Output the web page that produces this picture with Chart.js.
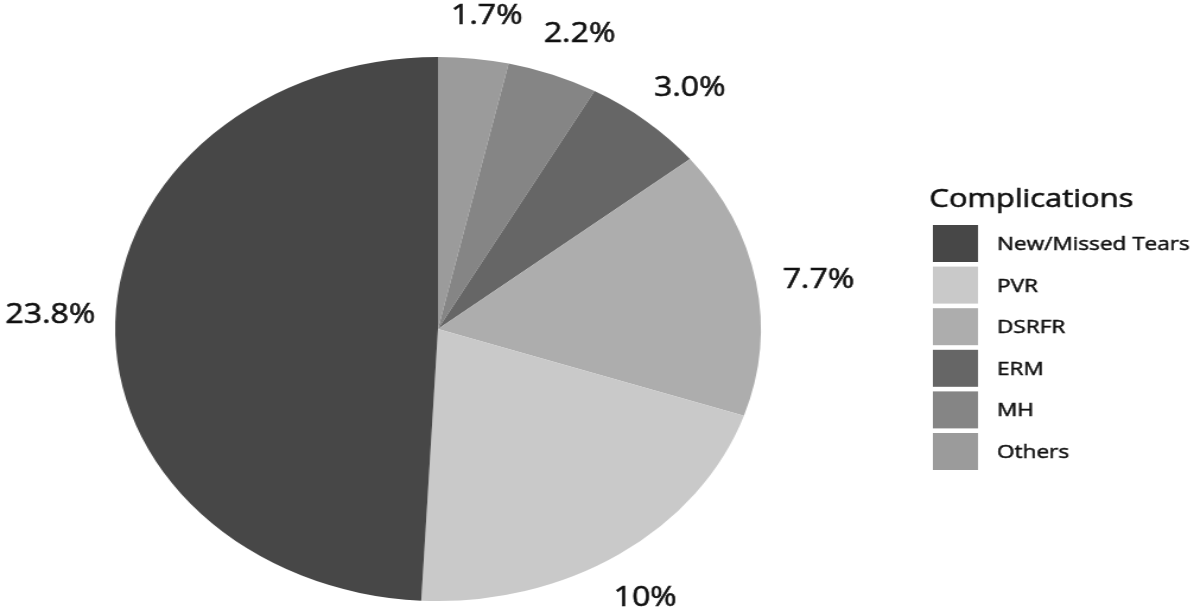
<!DOCTYPE html>
<html lang="en">
<head>
  <meta charset="UTF-8" />
  <title>Complications</title>
  <script src="https://cdn.jsdelivr.net/npm/chart.js"></script>
  <style>
    html, body {
      margin: 0;
      padding: 0;
      background: #fff;
      overflow: hidden;
    }
    /* the reference is stretched sideways, so the chart is drawn narrow and widened */
    #wrap {
      width: 1011px;
      height: 608px;
      transform: scaleX(1.1869);
      transform-origin: 0 0;
    }
  </style>
</head>
<body>
  <div id="wrap"><canvas id="chart"></canvas></div>

  <script>
    // legend order (counter-clockwise from the top in the picture)
    const categories = ['New/Missed Tears', 'PVR', 'DSRFR', 'ERM', 'MH', 'Others'];
    const values = [23.8, 10, 7.7, 3.0, 2.2, 1.7];
    const valueLabels = ['23.8%', '10%', '7.7%', '3.0%', '2.2%', '1.7%'];
    const colors = ['#474747', '#c9c9c9', '#adadad', '#666666', '#858585', '#9b9b9b'];
    const legendTitle = 'Complications';

    const FONT = "'Open Sans', 'Noto Sans', sans-serif";

    // Chart.js goes clockwise, the picture goes the other way, so flip
    const order = categories.map((_, i) => i).reverse();

    // a bit heavier than plain fill, the source font is chunkier
    function heavyText(ctx, txt, x, y) {
      ctx.fillText(txt, x, y);
      ctx.strokeText(txt, x, y);
    }

    const sliceLabels = {
      id: 'sliceLabels',
      afterDatasetsDraw(chart) {
        const ctx = chart.ctx;
        const meta = chart.getDatasetMeta(0);
        ctx.save();
        ctx.font = '27px ' + FONT;
        ctx.fillStyle = '#111';
        ctx.strokeStyle = '#111';
        ctx.lineWidth = 0.6;
        ctx.textAlign = 'center';
        ctx.textBaseline = 'middle';
        meta.data.forEach((arc, i) => {
          const mid = (arc.startAngle + arc.endAngle) / 2 + 0.02;
          const txt = valueLabels[order[i]];
          const r = arc.outerRadius * 1.16 + Math.abs(Math.cos(mid)) * ctx.measureText(txt).width * 0.15;
          heavyText(ctx, txt, arc.x + Math.cos(mid) * r, arc.y + Math.sin(mid) * r + 1);
        });
        ctx.restore();
      }
    };

    const sideLegend = {
      id: 'sideLegend',
      afterDraw(chart) {
        const ctx = chart.ctx;
        const x = 786, top = 225, box = 37, step = 41.6;
        ctx.save();
        ctx.fillStyle = '#111';
        ctx.strokeStyle = '#111';
        ctx.lineWidth = 0.6;
        ctx.textBaseline = 'alphabetic';
        ctx.font = '26px ' + FONT;
        heavyText(ctx, legendTitle, x - 3, 207);
        ctx.font = '19px ' + FONT;
        ctx.lineWidth = 0.5;
        ctx.textBaseline = 'middle';
        categories.forEach((c, i) => {
          const y = top + i * step;
          ctx.fillStyle = colors[i];
          ctx.fillRect(x, y, 38, box);
          ctx.fillStyle = '#111';
          heavyText(ctx, c, x + 54, y + box / 2 + 1);
        });
        ctx.restore();
      }
    };

    new Chart(document.getElementById('chart'), {
      type: 'pie',
      data: {
        labels: order.map(i => categories[i]),
        datasets: [{
          data: order.map(i => values[i]),
          backgroundColor: order.map(i => colors[i]),
          borderWidth: 0
        }]
      },
      options: {
        responsive: true,
        maintainAspectRatio: false,
        animation: false,
        layout: { padding: { left: 97, right: 370, top: 57, bottom: 7 } },
        plugins: {
          legend: { display: false },
          tooltip: { enabled: false }
        }
      },
      plugins: [sliceLabels, sideLegend]
    });
  </script>
</body>
</html>
